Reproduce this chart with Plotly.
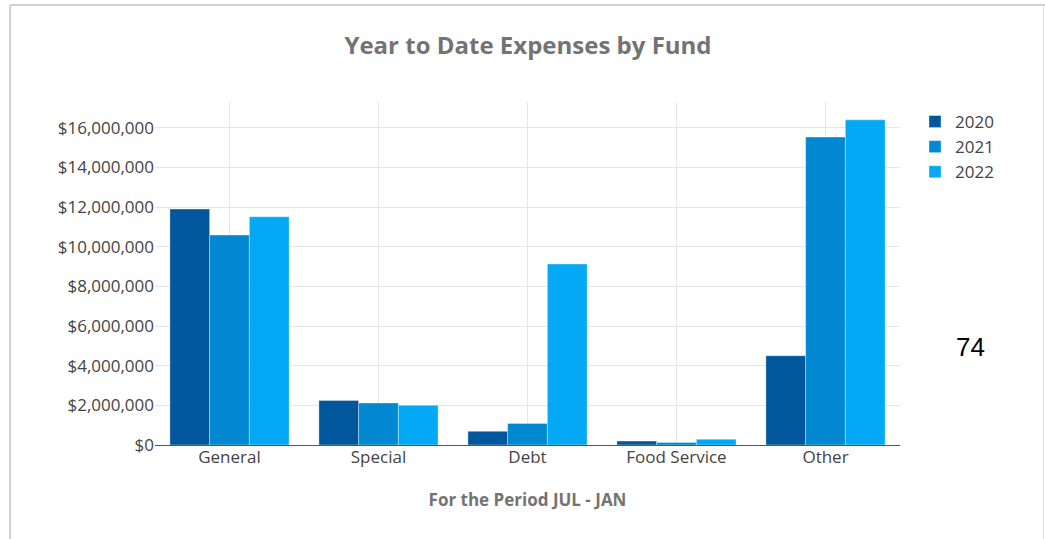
import plotly.graph_objects as go

categories = ["General", "Special", "Debt", "Food Service", "Other"]
years = ["2020", "2021", "2022"]
values_2020 = [11900000, 2250000, 690000, 200000, 4500000]
values_2021 = [10590000, 2120000, 1090000, 130000, 15530000]
values_2022 = [11510000, 2000000, 9130000, 290000, 16400000]
colors = ["#01579b", "#0288d1", "#03a9f4"]
y_ticks = [0, 2000000, 4000000, 6000000, 8000000, 10000000, 12000000, 14000000, 16000000]

W, H = 1045, 539
# plot area in page pixels: x 155..900, y 102..445
ML = 155
MT = 102
MR = W - 900
MB = H - 445
PW, PH = W - ML - MR, H - MT - MB

def px_x(p):
    return (p - ML) / PW

def px_y(p):
    return (H - MB - p) / PH

fig = go.Figure()
for yr, vals, col in zip(years, [values_2020, values_2021, values_2022], colors):
    fig.add_trace(go.Bar(
        name=yr, x=categories, y=vals,
        marker=dict(color=col, line=dict(color="rgba(255,255,255,0.35)", width=1)),
    ))

font_family = "Open Sans, Noto Sans, sans-serif"

fig.update_layout(
    width=W, height=H,
    margin=dict(l=ML, r=MR, t=MT, b=MB, autoexpand=False),
    paper_bgcolor="white", plot_bgcolor="white",
    barmode="group", bargap=0.2, bargroupgap=0,
    font=dict(family=font_family, size=17, color="#444444"),
    title=dict(
        text="<b>Year to Date Expenses by Fund</b>",
        x=px_x(528), xref="paper", xanchor="center",
        y=1 - 46 / H, yref="container", yanchor="middle",
        font=dict(family=font_family, size=24, color="#737373"),
    ),
    xaxis=dict(
        showgrid=True, gridcolor="#e6e6e6", gridwidth=1,
        showline=True, linecolor="#555555", linewidth=1,
        ticks="", tickfont=dict(size=17, color="#444444"),
        ticklabelstandoff=-3,
        title=dict(text="<b>For the Period JUL - JAN</b>", standoff=26,
                   font=dict(family=font_family, size=17, color="#737373")),
        fixedrange=True,
    ),
    yaxis=dict(
        range=[0, 17300000],
        tickvals=y_ticks,
        tickformat="$,.0f",
        showgrid=True, gridcolor="#e6e6e6", gridwidth=1,
        zeroline=False, showline=False,
        ticks="", tickfont=dict(size=17, color="#444444"),
        fixedrange=True,
    ),
    legend=dict(
        x=px_x(915), xanchor="left",
        y=px_y(104), yanchor="top",
        font=dict(size=17, color="#444444"),
        bgcolor="rgba(0,0,0,0)",
        tracegroupgap=0,
    ),
    shapes=[
        dict(type="line", xref="paper", yref="paper",
             x0=px_x(10), x1=px_x(10), y0=px_y(5), y1=px_y(560),
             line=dict(color="#d0d0d0", width=2)),
        dict(type="line", xref="paper", yref="paper",
             x0=px_x(10), x1=px_x(1060), y0=px_y(5), y1=px_y(5),
             line=dict(color="#d0d0d0", width=2)),
        dict(type="line", xref="paper", yref="paper",
             x0=px_x(1043.5), x1=px_x(1043.5), y0=px_y(5), y1=px_y(560),
             line=dict(color="#e0e0e0", width=1)),
    ],
    annotations=[
        dict(text="74", xref="paper", yref="paper",
             x=px_x(970), y=px_y(347), xanchor="center", yanchor="middle",
             showarrow=False,
             font=dict(family="Liberation Sans, Arial, sans-serif", size=26, color="#000000")),
    ],
)

fig.write_html(
    "out.html",
    config={"displayModeBar": False},
    post_script="document.body.style.margin='0';document.body.style.overflow='hidden';",
)
